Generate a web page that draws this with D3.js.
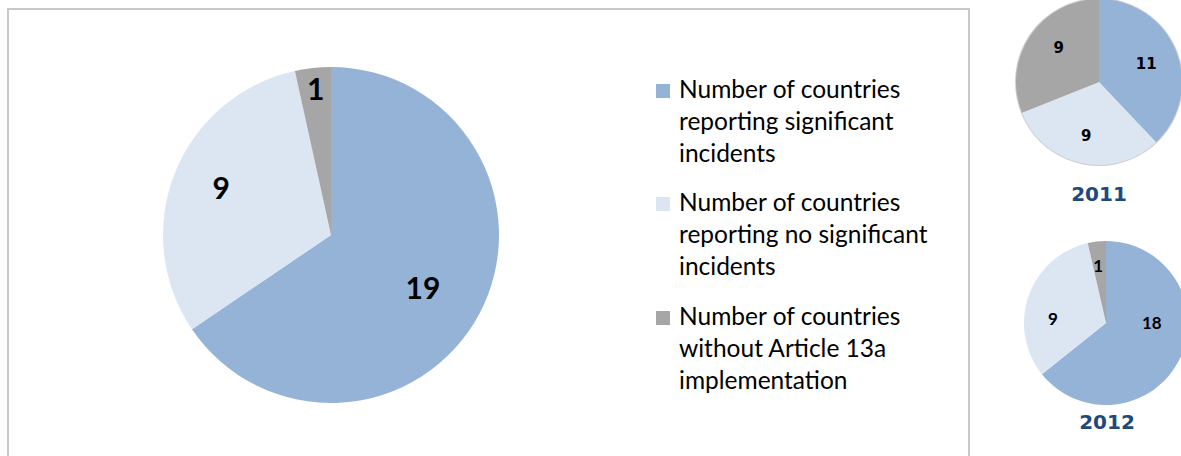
<!DOCTYPE html>
<html>
<head>
<meta charset="utf-8">
<script src="https://cdn.jsdelivr.net/npm/d3@7"></script>
<style>
  body { margin: 0; background: #fff; }
  svg { display: block; }
</style>
</head>
<body>
<div class="chart"></div>
<script>
var svgWidth = 1181;
var svgHeight = 456;

// data
var categories = [
  "Number of countries reporting significant incidents",
  "Number of countries reporting no significant incidents",
  "Number of countries without Article 13a implementation"
];
var legendLines = [
  ["Number of countries", "reporting significant", "incidents"],
  ["Number of countries", "reporting no significant", "incidents"],
  ["Number of countries", "without Article 13a", "implementation"]
];
var values2013 = [19, 9, 1];
var values2011 = [11, 9, 9];
var values2012 = [18, 9, 1];
var years = ["2011", "2012"];
var colors = ["#95b3d7", "#dce6f2", "#a6a6a6"];

var svg = d3.select(".chart")
  .append("svg")
  .attr("width", svgWidth)
  .attr("height", svgHeight);

// chart area border
svg.append("rect")
  .attr("x", 8)
  .attr("y", 9)
  .attr("width", 961)
  .attr("height", 470)
  .attr("fill", "none")
  .attr("stroke", "#c8c8c8")
  .attr("stroke-width", 2);

var color = d3.scaleOrdinal().domain(d3.range(3)).range(colors);
var pie = d3.pie().sort(null).value(d => d);

function drawPie(values, cx, cy, r, opts) {
  var g = svg.append("g").attr("transform", `translate(${cx}, ${cy})`);
  var arc = d3.arc().innerRadius(0).outerRadius(r);
  var arcs = pie(values);

  if (opts.shadow) {
    g.append("circle")
      .attr("r", r + 1)
      .attr("fill", "#d0d0d0");
  }

  g.selectAll("path")
    .data(arcs)
    .enter()
    .append("path")
    .attr("d", arc)
    .attr("fill", (d, i) => color(i));

  var labelArc = d3.arc().innerRadius(r * opts.lr).outerRadius(r * opts.lr);
  g.selectAll("text")
    .data(arcs)
    .enter()
    .append("text")
    .attr("transform", (d, i) => {
      var c = labelArc.centroid(d);
      var off = opts.offsets ? opts.offsets[i] : [0, 0];
      return `translate(${c[0] + off[0]}, ${c[1] + off[1]})`;
    })
    .attr("text-anchor", "middle")
    .attr("dy", "0.36em")
    .style("font-family", opts.font)
    .style("font-weight", "bold")
    .style("font-size", opts.size + "px")
    .attr("fill", "#000")
    .text(d => d.data);
  return g;
}

// main pie
drawPie(values2013, 331, 235, 168, {
  lr: 0.62, font: "Lato, 'Open Sans', sans-serif", size: 30,
  offsets: [[0, 4], [-13, -8], [-4, -42]]
});

// small pies
drawPie(values2011, 1099, 82, 83, {
  lr: 0.6, font: "'DejaVu Sans', Verdana, sans-serif", size: 15, shadow: true,
  offsets: [[1, 0], [-2, 5], [1, -6]]
});
drawPie(values2012, 1106, 323, 82, {
  lr: 0.62, font: "Lato, sans-serif", size: 17,
  offsets: [[0, -22], [-5, 13], [-2, -7]]
});

// year labels
svg.selectAll(".year")
  .data(years)
  .enter()
  .append("text")
  .attr("class", "year")
  .attr("x", (d, i) => [1099, 1107][i])
  .attr("y", (d, i) => [201, 429][i])
  .attr("text-anchor", "middle")
  .style("font-family", "'DejaVu Sans', Verdana, sans-serif")
  .style("font-weight", "bold")
  .style("font-size", "20px")
  .attr("fill", "#1f497d")
  .text(d => d);

// legend
var legend = svg.selectAll(".legend")
  .data(categories)
  .enter()
  .append("g")
  .attr("class", "legend")
  .attr("transform", (d, i) => `translate(656, ${[98, 211, 325][i]})`);

legend.append("rect")
  .attr("x", 0)
  .attr("y", -14)
  .attr("width", 14)
  .attr("height", 14)
  .attr("fill", (d, i) => color(i));

legend.each(function (d, i) {
  var t = d3.select(this).append("text")
    .attr("x", 23)
    .attr("y", 0)
    .style("font-family", "Lato, 'Open Sans', sans-serif")
    .style("font-size", "24.5px")
    .attr("fill", "#000");
  legendLines[i].forEach((line, j) => {
    t.append("tspan")
      .attr("x", 23)
      .attr("y", j * 32)
      .text(line);
  });
});
</script>
</body>
</html>
